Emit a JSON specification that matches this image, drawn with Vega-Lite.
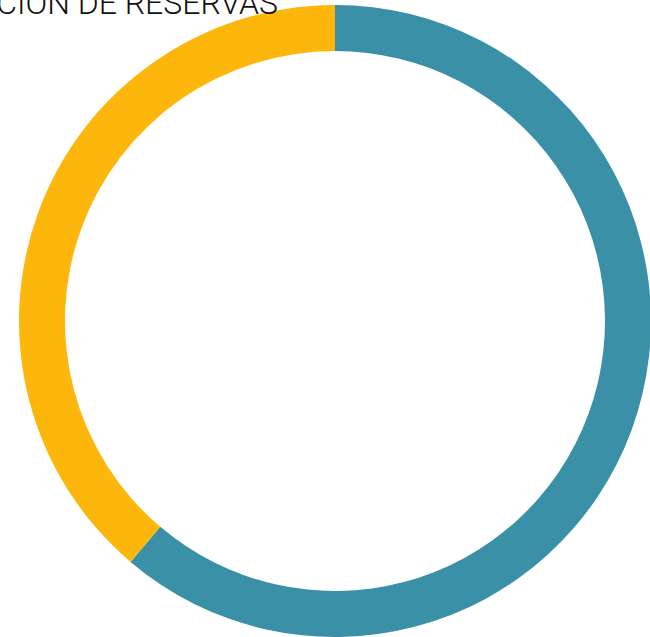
{
  "$schema": "https://vega.github.io/schema/vega-lite/v6.json",
  "width": 670,
  "height": 642,
  "autosize": "none",
  "padding": 0,
  "background": "white",
  "title": {
    "text": "DISTRIBUCIÓN DE RESERVAS",
    "anchor": "end",
    "font": "Roboto",
    "fontWeight": 300,
    "fontSize": 32,
    "color": "#111111",
    "baseline": "alphabetic",
    "offset": 0,
    "dx": -392,
    "dy": 46
  },
  "data": {
    "values": [
      {"estado": "Confirmadas", "valor": 61.2, "orden": 1},
      {"estado": "Pendientes", "valor": 38.8, "orden": 2}
    ]
  },
  "mark": {"type": "arc", "radius": 316, "radius2": 270},
  "encoding": {
    "theta": {"field": "valor", "type": "quantitative", "stack": true},
    "order": {"field": "orden", "type": "quantitative"},
    "color": {
      "field": "estado",
      "type": "nominal",
      "scale": {"domain": ["Confirmadas", "Pendientes"], "range": ["#3A90A7", "#FDB60B"]},
      "legend": null
    }
  },
  "config": {"view": {"stroke": null}}
}
